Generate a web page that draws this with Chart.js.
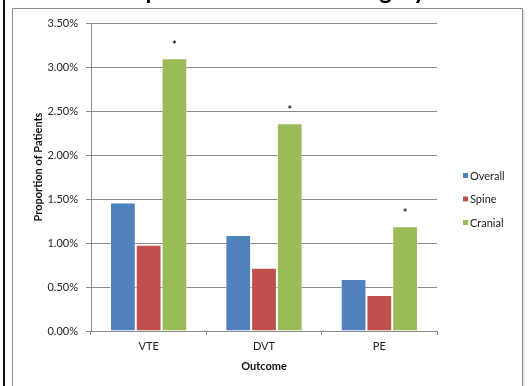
<!DOCTYPE html>
<html>
<head>
<meta charset="utf-8">
<script src="https://cdn.jsdelivr.net/npm/chart.js@4/dist/chart.umd.min.js"></script>
<style>
  html, body { margin: 0; padding: 0; background: #fff; }
  #wrap { width: 528px; height: 386px; position: relative; }
</style>
</head>
<body>
<div id="wrap"><canvas id="c" width="528" height="386"></canvas></div>
<script>
// Outcome categories and rates (percent of patients)
const outcomes = ['VTE', 'DVT', 'PE'];
const overall = [1.46, 1.09, 0.59];
const spine = [0.98, 0.72, 0.41];
const cranial = [3.10, 2.36, 1.19];
const cranialMarks = ['*', '*', '*'];
const seriesNames = ['Overall', 'Spine', 'Cranial'];
const seriesColors = ['#4F81BD', '#C0504D', '#9BBB59'];
const chartTitle = 'Complications in Neurosurgery';
const yTitle = 'Proportion of Patients';

const FONT = 'Lato, "Open Sans", sans-serif';

// Page frame, the heading running off the top edge, and the value-axis title
const framePlugin = {
  id: 'frame',
  beforeDraw(chart) {
    const ctx = chart.ctx;
    ctx.save();
    ctx.fillStyle = '#fff';
    ctx.fillRect(0, 0, chart.width, chart.height);
    ctx.fillStyle = '#111';
    ctx.fillRect(3, 0, 2, chart.height);
    ctx.strokeStyle = '#8a8a8a';
    ctx.lineWidth = 1;
    ctx.beginPath();
    ctx.moveTo(12.5, chart.height + 2);
    ctx.lineTo(12.5, 8.5);
    ctx.lineTo(522.5, 8.5);
    ctx.lineTo(522.5, chart.height + 2);
    ctx.stroke();
    ctx.strokeStyle = '#d0d0d0';
    ctx.beginPath();
    ctx.moveTo(524, 10);
    ctx.lineTo(524, chart.height + 2);
    ctx.stroke();
    ctx.fillStyle = '#000';
    ctx.font = 'bold 24px ' + FONT;
    ctx.textAlign = 'center';
    ctx.textBaseline = 'alphabetic';
    ctx.fillText(chartTitle, 261, -1);

    // value-axis title, rotated
    const area = chart.chartArea;
    ctx.translate(38, (area.top + area.bottom) / 2 - 10);
    ctx.rotate(-Math.PI / 2);
    ctx.font = 'bold 11px ' + FONT;
    ctx.textBaseline = 'middle';
    ctx.fillStyle = '#111';
    ctx.fillText(yTitle, 0, 0);
    ctx.restore();
  }
};

// Significance markers above the cranial bars
const markPlugin = {
  id: 'marks',
  afterDatasetsDraw(chart) {
    const meta = chart.getDatasetMeta(2);
    const ctx = chart.ctx;
    ctx.save();
    ctx.fillStyle = '#222';
    ctx.font = 'bold 11px ' + FONT;
    ctx.textAlign = 'center';
    ctx.textBaseline = 'middle';
    meta.data.forEach((bar, i) => {
      if (cranialMarks[i]) ctx.fillText(cranialMarks[i], bar.x, bar.y - 13);
    });
    ctx.restore();
  }
};

// Legend to the right of the plot
const legendPlugin = {
  id: 'sideLegend',
  afterDraw(chart) {
    const ctx = chart.ctx;
    ctx.save();
    ctx.font = '11px ' + FONT;
    ctx.textBaseline = 'middle';
    ctx.textAlign = 'left';
    chart.data.datasets.forEach((ds, i) => {
      const y = 176 + i * 23.5;
      ctx.fillStyle = ds.backgroundColor;
      ctx.fillRect(463, y - 3, 5, 5);
      ctx.fillStyle = '#222';
      ctx.fillText(ds.label, 470, y);
    });
    ctx.restore();
  }
};

new Chart(document.getElementById('c'), {
  type: 'bar',
  data: {
    labels: outcomes,
    datasets: [overall, spine, cranial].map((vals, i) => ({
      label: seriesNames[i],
      data: vals,
      backgroundColor: seriesColors[i],
      borderColor: 'rgba(255,255,255,0.55)',
      borderWidth: { left: 1, right: 1, top: 1, bottom: 0 },
      barPercentage: 1.0,
      categoryPercentage: 0.67
    }))
  },
  options: {
    responsive: false,
    animation: false,
    devicePixelRatio: 1,
    layout: { padding: { left: 28, right: 91, top: 23, bottom: 10 } },
    plugins: {
      legend: { display: false },
      tooltip: { enabled: false },
      title: { display: false }
    },
    scales: {
      x: {
        afterFit(s) { s.height = 45; },
        grid: {
          offset: true,
          drawOnChartArea: false,
          drawTicks: true,
          tickLength: 4,
          color: '#8a8a8a'
        },
        border: { color: '#8a8a8a' },
        ticks: { color: '#222', padding: 5, font: { family: FONT, size: 11 } },
        title: {
          display: true,
          text: 'Outcome',
          color: '#111',
          font: { family: FONT, size: 11, weight: 'bold' },
          padding: { top: 0, bottom: 3 }
        }
      },
      y: {
        min: 0,
        max: 3.5,
        afterFit(s) { s.width = 63; },
        ticks: {
          stepSize: 0.5,
          color: '#222',
          padding: 8,
          font: { family: FONT, size: 11 },
          callback: v => v.toFixed(2) + '%'
        },
        grid: { color: '#8a8a8a', tickLength: 5 },
        border: { color: '#8a8a8a' }
      }
    }
  },
  plugins: [framePlugin, markPlugin, legendPlugin]
});
</script>
</body>
</html>
